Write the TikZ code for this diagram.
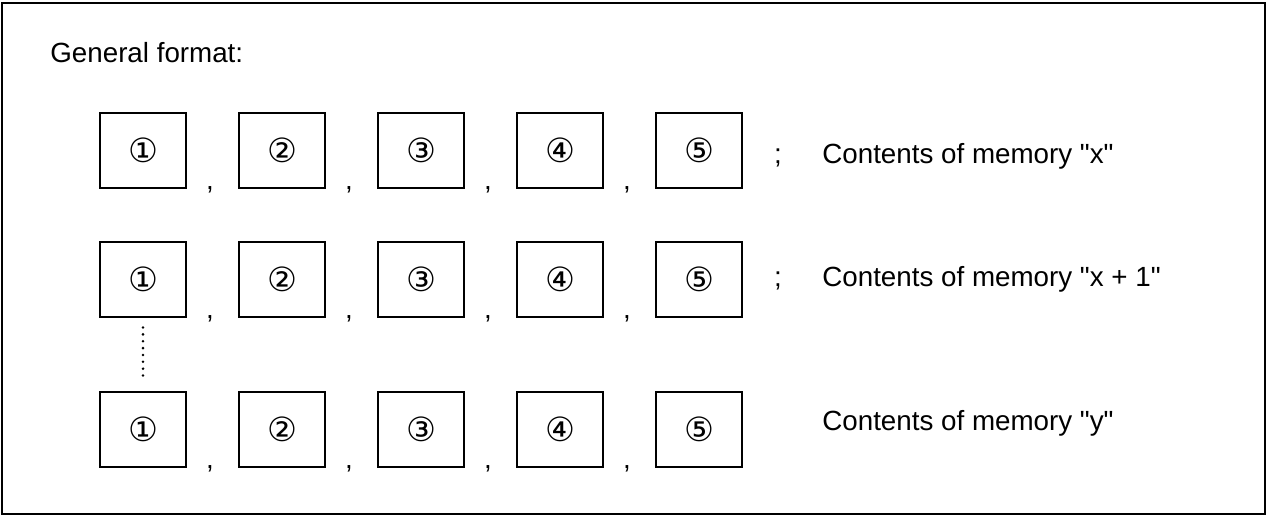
\documentclass[tikz,border=0pt]{standalone}
\usepackage{fontspec}
\setmainfont{Liberation Sans}[Ligatures=TeXOff]
\newfontfamily\dvfont{DejaVu Sans}
\begin{document}
\begin{tikzpicture}[x=0.02cm,y=-0.02cm,
  cell/.style={draw, line width=1pt, minimum width=1.72cm, minimum height=1.5cm, inner sep=0pt, font=\dvfont\fontsize{19}{22}\selectfont},
  lbl/.style={anchor=base west, inner sep=0pt, font=\fontsize{15.8}{18}\selectfont},
  sep/.style={anchor=base, inner sep=0pt, font=\fontsize{15.8}{18}\selectfont}]
\useasboundingbox (0,0) rectangle (1267,518);
\draw[line width=1.1pt] (2,3) rectangle (1265,514);
\node[lbl] (title) at (50,62) {General format:};
\foreach \r/\y/\b in {1/150.5/189, 2/279.5/318, 3/429.5/468}{
  \node[cell] (r\r c1) at (143,\y) {①};
  \node[cell] (r\r c2) at (282,\y) {②};
  \node[cell] (r\r c3) at (421,\y) {③};
  \node[cell] (r\r c4) at (560,\y) {④};
  \node[cell] (r\r c5) at (699,\y) {⑤};
  \node[sep] (r\r k1) at (210,\b) {,};
  \node[sep] (r\r k2) at (349,\b) {,};
  \node[sep] (r\r k3) at (488,\b) {,};
  \node[sep] (r\r k4) at (627,\b) {,};
}
\node[sep] (s1) at (778,163) {;};
\node[sep] (s2) at (778,286) {;};
\node[lbl] (t1) at (822,163) {Contents of memory "x"};
\node[lbl] (t2) at (822,286) {Contents of memory "x + 1"};
\node[lbl] (t3) at (822,430) {Contents of memory "y"};
\draw[line width=1.6pt, line cap=round, dash pattern=on 0pt off 3.9pt, shorten <=5.5pt, shorten >=5.5pt] (r2c1.south) -- (r3c1.north);
\end{tikzpicture}
\end{document}
